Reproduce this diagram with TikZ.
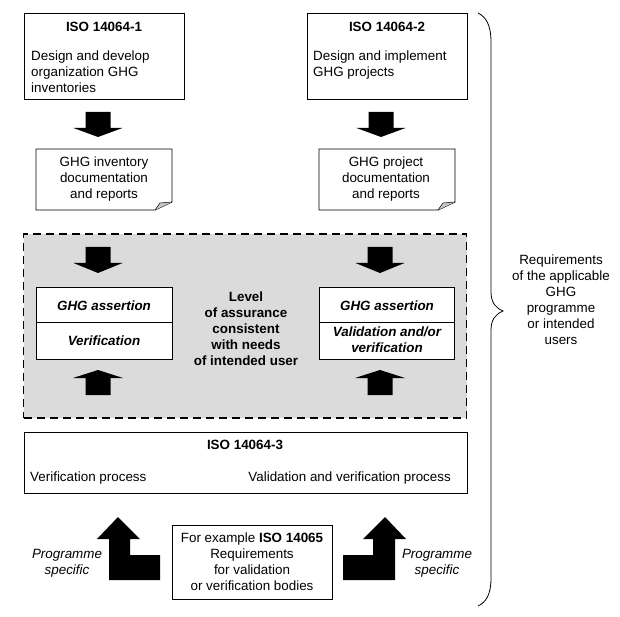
\documentclass[tikz,border=0pt]{standalone}
\usepackage{fontspec}
\setmainfont{Liberation Sans}
\usetikzlibrary{calc}
\newcommand\fsz{\fontsize{13.4}{16}\selectfont}
\tikzset{
  txt/.style={font=\fsz, inner sep=0pt, align=center},
  box/.style={draw=black, line width=0.9pt, fill=white, inner sep=0pt},
  blk/.style={fill=black, draw=none},
  grpbox/.style={draw=black, dash pattern=on 8pt off 5pt, line width=1.8pt, fill=gray!28, inner sep=0pt},
}
\newcommand\blkdown[3]{%
  \fill[blk] (#1-12.5,#2) -- (#1+12.5,#2) -- (#1+12.5,#2+16) -- (#1+24.5,#2+16) -- (#1,#3) -- (#1-24.5,#2+16) -- (#1-12.5,#2+16) -- cycle;}
\newcommand\blkup[3]{% cx, bottom, tip
  \fill[blk] (#1-12.5,#2) -- (#1+12.5,#2) -- (#1+12.5,#3+8) -- (#1+25,#3+8) -- (#1,#3) -- (#1-25,#3+8) -- (#1-12.5,#3+8) -- cycle;}
\begin{document}
\begin{tikzpicture}[x=1pt,y=-1pt]
\useasboundingbox (0,0) rectangle (620,617);
\fill[white] (0,0) rectangle (620,617);

% top boxes
\node[box, minimum width=160pt, minimum height=86pt] (iso1) at (104,56) {};
\node[txt, font=\fsz\bfseries] (iso1t) at (104,27) {ISO 14064-1};
\node[txt, align=left, anchor=north west] (iso1b) at (31,51) {Design and develop\\organization GHG\\inventories};

\node[box, minimum width=160pt, minimum height=86pt] (iso2) at (387,56) {};
\node[txt, font=\fsz\bfseries] (iso2t) at (387,27) {ISO 14064-2};
\node[txt, align=left, anchor=north west] (iso2b) at (313,51) {Design and implement\\GHG projects};

% arrows down
\blkdown{98}{112}{137}
\blkdown{381}{112}{137}

% documents
\draw[line width=0.9pt, fill=white] (36,149) -- (172,149) -- (172,202) -- (155,210) -- (36,210) -- cycle;
\fill[gray!45] (155,210) -- (172,202) -- (160,203) -- cycle;
\draw[line width=0.5pt] (155,210) -- (160,203) -- (172,202);
\coordinate (doc1) at (104,179);
\node[txt] (doc1t) at (doc1) {GHG inventory\\documentation\\and reports};

\draw[line width=0.9pt, fill=white] (319,149) -- (455,149) -- (455,202) -- (438,210) -- (319,210) -- cycle;
\fill[gray!45] (438,210) -- (455,202) -- (443,203) -- cycle;
\draw[line width=0.5pt] (438,210) -- (443,203) -- (455,202);
\coordinate (doc2) at (386,179);
\node[txt] (doc2t) at (doc2) {GHG project\\documentation\\and reports};

% grey dashed group
\node[grpbox, minimum width=443pt, minimum height=184pt] (grp) at (245,326) {};
\blkdown{98}{247}{273}
\blkdown{380}{247}{273}
\blkup{98}{395}{370}
\blkup{380}{395}{370}

\node[box, minimum width=136pt, minimum height=72pt] (asl) at (104,323) {};
\draw[line width=0.9pt] (asl.west |- 0,322) -- (asl.east |- 0,322);
\node[txt, font=\fsz\bfseries\itshape] (aslt) at (104,306) {GHG assertion};
\node[txt, font=\fsz\bfseries\itshape] (aslb) at (104,341) {Verification};

\node[box, minimum width=135pt, minimum height=72pt] (asr) at (386.5,323) {};
\draw[line width=0.9pt] (asr.west |- 0,322) -- (asr.east |- 0,322);
\node[txt, font=\fsz\bfseries\itshape] (asrt) at (387,306) {GHG assertion};
\node[txt, font=\fsz\bfseries\itshape] (asrb) at (387,340) {Validation and/or\\verification};

\node[txt, font=\fsz\bfseries] (lvl) at (246,329) {Level\\of assurance\\consistent\\with needs\\of intended user};

% ISO 14064-3
\node[box, minimum width=443pt, minimum height=61pt] (iso3) at (245.5,462.5) {};
\node[txt, font=\fsz\bfseries] (iso3t) at (245,445) {ISO 14064-3};
\node[txt, anchor=west] (iso3l) at (30,478) {Verification process};
\node[txt, anchor=east] (iso3r) at (451,478) {Validation and verification process};

% bottom
\fill[blk] (109,580) -- (160,580) -- (160,555) -- (130,555) -- (130,539) -- (140,539) -- (118,517) -- (97,539) -- (109,539) -- cycle;
\fill[blk] (395,580) -- (343,580) -- (343,555) -- (373,555) -- (373,539) -- (363,539) -- (385,517) -- (406,539) -- (395,539) -- cycle;

\node[box, minimum width=160pt, minimum height=74pt] (iso65) at (252,562) {};
\node[txt] (iso65t) at (252,562) {For example \textbf{ISO 14065}\\Requirements\\for validation\\or verification bodies};

\node[txt, font=\fsz\itshape] (psl) at (67,563) {Programme\\specific};
\node[txt, font=\fsz\itshape] (psr) at (437,563) {Programme\\specific};

% brace
\draw[line width=0.8pt] (478,13) .. controls (486,17) and (491,25) .. (491,42) -- (491,292)
  .. controls (491,303) and (496,308) .. (503,311)
  .. controls (496,314) and (491,319) .. (491,330) -- (491,578)
  .. controls (491,595) and (486,602) .. (478,606);
\coordinate (tip) at (503,311);
\node[txt] (req) at (561,300) {Requirements\\of the applicable\\GHG\\programme\\or intended\\users};
\end{tikzpicture}
\end{document}
